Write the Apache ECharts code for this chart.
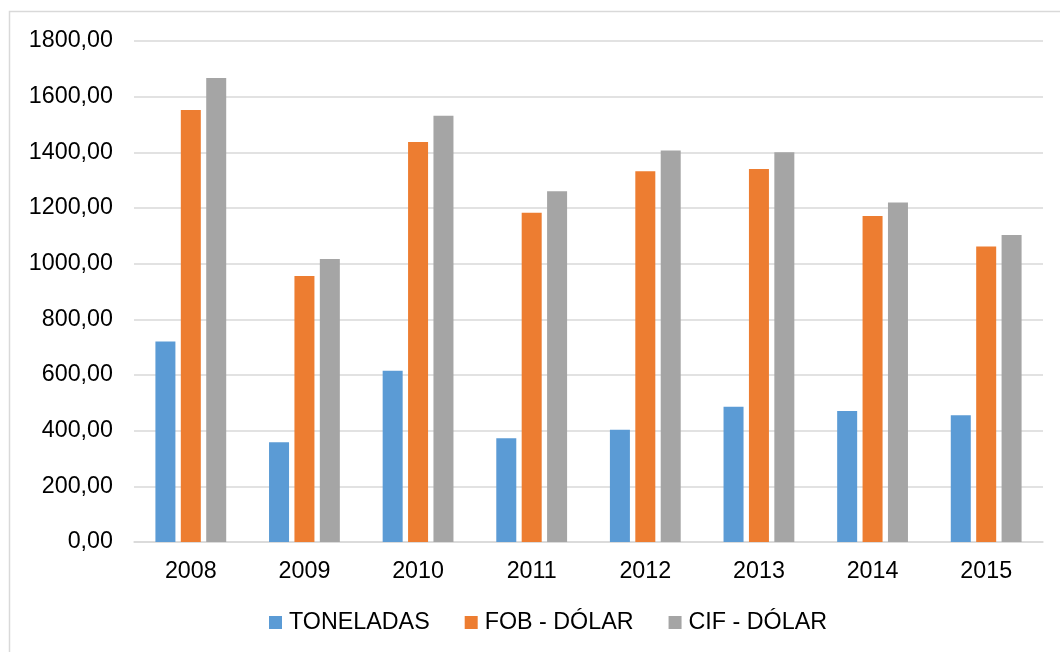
<!DOCTYPE html>
<html><head><meta charset="utf-8">
<script src="https://cdn.jsdelivr.net/npm/echarts@6/dist/echarts.min.js"></script>
<style>html,body{margin:0;padding:0;background:#fff}#c{width:1060px;height:652px}</style>
</head><body><div id="c"></div>
<script>
const categories = ['2008','2009','2010','2011','2012','2013','2014','2015'];
const toneladas = [720, 358, 615, 373, 403, 486, 471, 455];
const fobDolar = [1552, 956, 1437, 1183, 1332, 1340, 1171, 1062];
const cifDolar = [1667, 1017, 1531, 1260, 1407, 1400, 1220, 1103];
const seriesNames = ['TONELADAS', 'FOB - DÓLAR', 'CIF - DÓLAR'];
const colors = ['#5b9bd5', '#ed7d31', '#a5a5a5'];

const chart = echarts.init(document.getElementById('c'), null, {renderer: 'canvas'});
const font = 'Liberation Sans, Arial, sans-serif';
chart.setOption({
  animation: false,
  backgroundColor: '#fff',
  color: colors,
  graphic: [{type: 'rect', shape: {x: 9.5, y: 11.5, width: 1100, height: 700}, style: {fill: 'none', stroke: '#d9d9d9', lineWidth: 1.5}}],
  grid: {left: 134, right: 17, top: 41, bottom: 110},
  legend: {
    top: 606, left: 264, itemWidth: 13, itemHeight: 13, itemGap: 35,
    icon: 'rect',
    textStyle: {fontFamily: font, fontSize: 23.3, color: '#000', padding: [0,0,0,2]},
    data: seriesNames
  },
  xAxis: {
    type: 'category', data: categories,
    axisLine: {lineStyle: {color: '#d9d9d9', width: 1.5}},
    axisTick: {show: false},
    axisLabel: {fontFamily: font, fontSize: 23.3, color: '#000', margin: 18}
  },
  yAxis: {
    type: 'value', min: 0, max: 1800, interval: 200,
    axisLine: {show: false}, axisTick: {show: false},
    splitLine: {lineStyle: {color: '#d9d9d9', width: 1.5}},
    axisLabel: {fontFamily: font, fontSize: 23.3, color: '#000', margin: 21,
      formatter: v => v.toFixed(2).replace('.', ',')}
  },
  series: [
    {name: seriesNames[0], type: 'bar', data: toneladas, barWidth: 20, barGap: '27%'},
    {name: seriesNames[1], type: 'bar', data: fobDolar, barWidth: 20, barGap: '27%'},
    {name: seriesNames[2], type: 'bar', data: cifDolar, barWidth: 20, barGap: '27%'}
  ]
});
</script></body></html>
